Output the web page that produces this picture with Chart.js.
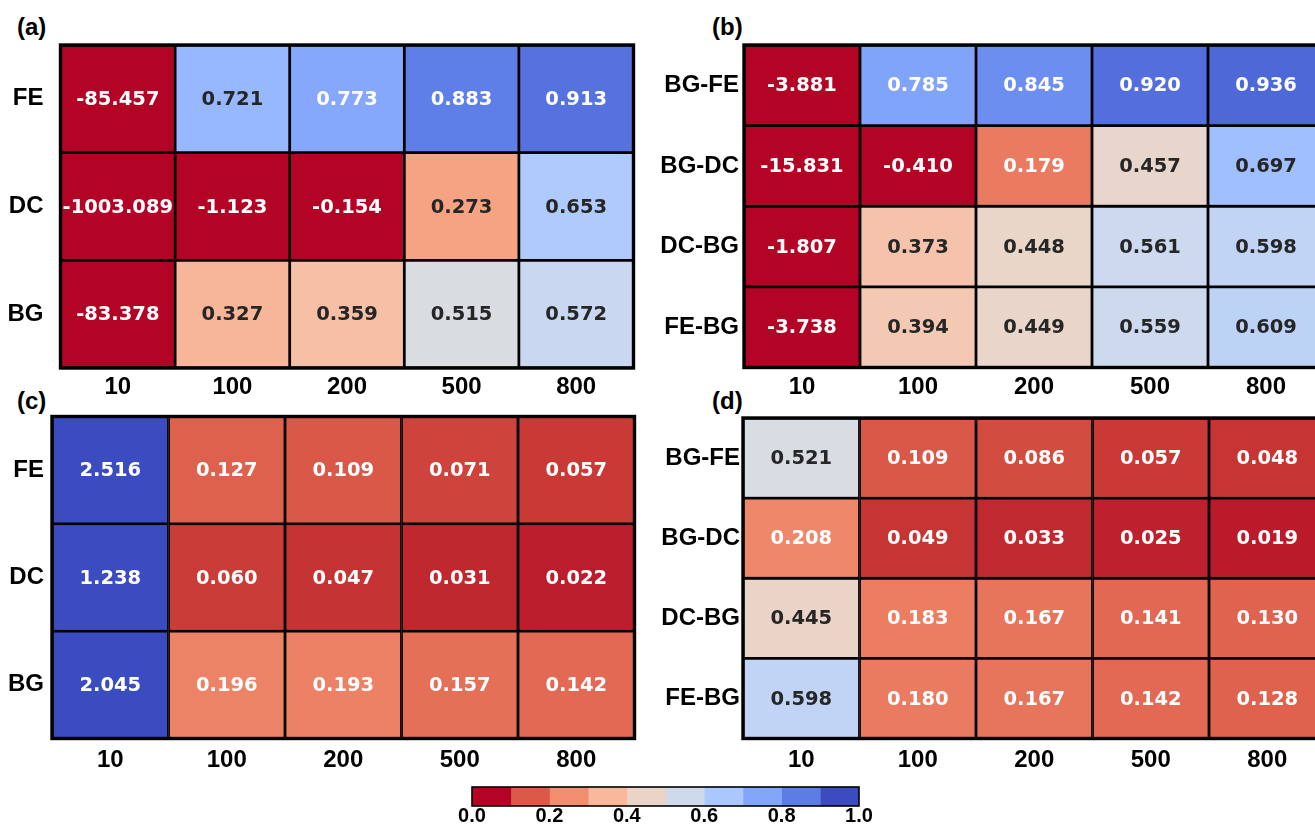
<!DOCTYPE html>
<html><head><meta charset="utf-8">
<script src="https://cdn.jsdelivr.net/npm/chart.js@4/dist/chart.umd.min.js"></script>
<style>
html,body{margin:0;padding:0;background:#fff;overflow:hidden;width:1315px;height:827px;position:relative}
canvas{position:absolute}
.pl{position:absolute;font-family:"Liberation Sans",Arial,sans-serif;font-weight:bold;font-size:24px;line-height:24px;color:#000;white-space:nowrap}
</style></head><body>
<div class="pl" style="left:17px;top:15px">(a)</div>
<div class="pl" style="left:712px;top:15px">(b)</div>
<div class="pl" style="left:17px;top:389px">(c)</div>
<div class="pl" style="left:712px;top:389px">(d)</div>
<canvas id="ca"></canvas>
<canvas id="cb"></canvas>
<canvas id="cc"></canvas>
<canvas id="cd"></canvas>
<canvas id="cbar"></canvas>
<script>
// ---------- data ----------
const columns = ['10', '100', '200', '500', '800'];

const rowsA = ['FE', 'DC', 'BG'];
const aFE = [-85.457, 0.721, 0.773, 0.883, 0.913];
const aDC = [-1003.089, -1.123, -0.154, 0.273, 0.653];
const aBG = [-83.378, 0.327, 0.359, 0.515, 0.572];

const rowsB = ['BG-FE', 'BG-DC', 'DC-BG', 'FE-BG'];
const bBGFE = [-3.881, 0.785, 0.845, 0.920, 0.936];
const bBGDC = [-15.831, -0.410, 0.179, 0.457, 0.697];
const bDCBG = [-1.807, 0.373, 0.448, 0.561, 0.598];
const bFEBG = [-3.738, 0.394, 0.449, 0.559, 0.609];

const rowsC = ['FE', 'DC', 'BG'];
const cFE = [2.516, 0.127, 0.109, 0.071, 0.057];
const cDC = [1.238, 0.060, 0.047, 0.031, 0.022];
const cBG = [2.045, 0.196, 0.193, 0.157, 0.142];

const rowsD = ['BG-FE', 'BG-DC', 'DC-BG', 'FE-BG'];
const dBGFE = [0.521, 0.109, 0.086, 0.057, 0.048];
const dBGDC = [0.208, 0.049, 0.033, 0.025, 0.019];
const dDCBG = [0.445, 0.183, 0.167, 0.141, 0.130];
const dFEBG = [0.598, 0.180, 0.167, 0.142, 0.128];

const cbEdges = [0, 0.1, 0.2, 0.3, 0.4, 0.5, 0.6, 0.7, 0.8, 0.9, 1.0];
const cbTicks = [0, 0.2, 0.4, 0.6, 0.8, 1.0];

// ---------- colormap (coolwarm, reversed) ----------
const CW = [[59,76,192],[68,90,204],[77,104,215],[87,117,225],[98,130,234],[108,142,241],[119,154,247],[130,165,251],[141,176,254],[152,185,255],[163,194,255],[174,201,253],[184,208,249],[194,213,244],[204,217,238],[213,219,230],[221,221,221],[229,216,209],[236,211,197],[241,204,185],[245,196,173],[247,187,160],[247,177,148],[247,166,135],[244,154,123],[241,141,111],[236,127,99],[229,112,88],[222,96,77],[213,80,66],[203,62,56],[192,40,47],[180,4,38]];
function coolwarm(t) {
  t = Math.min(1, Math.max(0, t));
  const p = t * 32, i = Math.min(31, Math.floor(p)), f = p - i;
  const a = CW[i], b = CW[i + 1];
  return a.map((v, k) => v + (b[k] - v) * f);
}
function cmapR(v) { return coolwarm(1 - v); }
function rgbStr(c) { return 'rgb(' + c.map(Math.round).join(',') + ')'; }
function lum(c) {
  const l = c.map(v => { v /= 255; return v <= 0.03928 ? v / 12.92 : Math.pow((v + 0.055) / 1.055, 2.4); });
  return 0.2126 * l[0] + 0.7152 * l[1] + 0.0722 * l[2];
}

const tickFont = { family: '"Liberation Sans", Arial, sans-serif', weight: 'bold', size: 24 };

function makeHeatmap(id, rows, matrix, g) {
  const cv = document.getElementById(id);
  const W = Math.ceil(g.right + 20 - g.cl);
  const H = Math.ceil(g.bottom + 45 - g.ct);
  cv.width = W; cv.height = H;
  cv.style.left = g.cl + 'px'; cv.style.top = g.ct + 'px';
  cv.style.width = W + 'px'; cv.style.height = H + 'px';
  const yw = g.left - g.cl;
  const padTop = g.top - g.ct;
  const padRight = W - (g.right - g.cl);
  const padBottom = H - (g.bottom - g.ct) - 45;

  const annot = {
    id: 'annot' + id,
    afterDatasetsDraw(chart) {
      const ctx = chart.ctx, a = chart.chartArea;
      ctx.save();
      chart.data.datasets.forEach((ds, i) => {
        const meta = chart.getDatasetMeta(i);
        meta.data.forEach((el, j) => {
          const v = matrix[i][j];
          const col = cmapR(v);
          ctx.fillStyle = lum(col) > 0.408 ? 'rgb(38,38,38)' : '#ffffff';
          ctx.font = 'bold 19.5px "DejaVu Sans", sans-serif';
          ctx.textAlign = 'center';
          ctx.textBaseline = 'middle';
          ctx.fillText(v.toFixed(3), el.x, (el.y + el.base) / 2 + 1);
        });
      });
      ctx.lineWidth = 3.4;
      ctx.strokeStyle = '#000';
      ctx.strokeRect(a.left, a.top, a.right - a.left, a.bottom - a.top);
      ctx.restore();
    }
  };

  return new Chart(cv, {
    type: 'bar',
    data: {
      labels: columns,
      datasets: rows.map((r, i) => ({
        label: r,
        data: columns.map(() => [i, i + 1]),
        backgroundColor: matrix[i].map(v => rgbStr(cmapR(v))),
        borderColor: '#000',
        borderWidth: 1.7,
        borderSkipped: false,
        borderRadius: 0,
        inflateAmount: 0.3,
        grouped: false,
        categoryPercentage: 1,
        barPercentage: 1
      }))
    },
    options: {
      responsive: false,
      animation: false,
      events: [],
      layout: { padding: { top: padTop, right: padRight, left: 0, bottom: padBottom } },
      plugins: { legend: { display: false }, tooltip: { enabled: false }, title: { display: false } },
      scales: {
        x: {
          type: 'category',
          offset: true,
          grid: { display: false, drawTicks: false },
          border: { display: false },
          ticks: { font: tickFont, color: '#000', padding: g.xpad, maxRotation: 0, autoSkip: false },
          afterFit: s => { s.height = 45; }
        },
        y: {
          type: 'linear',
          min: 0,
          max: rows.length,
          reverse: true,
          grid: { display: false, drawTicks: false },
          border: { display: false },
          afterBuildTicks: s => { s.ticks = rows.map((_, i) => ({ value: i + 0.5 })); },
          ticks: { font: tickFont, color: '#000', padding: g.ypad, callback: v => rows[Math.floor(v)] },
          afterFit: s => { s.width = yw; }
        }
      }
    },
    plugins: [annot]
  });
}

makeHeatmap('ca', rowsA, [aFE, aDC, aBG], { left: 60.5, top: 45, right: 633.5, bottom: 368, cl: 0, ct: 0, ypad: 17, xpad: 5 });
makeHeatmap('cb', rowsB, [bBGFE, bBGDC, bDCBG, bFEBG], { left: 744, top: 45, right: 1324, bottom: 367.5, cl: 634, ct: 0, ypad: 5, xpad: 5 });
makeHeatmap('cc', rowsC, [cFE, cDC, cBG], { left: 52, top: 416.5, right: 634.5, bottom: 738.5, cl: 0, ct: 370, ypad: 8, xpad: 7 });
makeHeatmap('cd', rowsD, [dBGFE, dBGDC, dDCBG, dFEBG], { left: 743, top: 418, right: 1325.5, bottom: 738.5, cl: 634, ct: 370, ypad: 3, xpad: 7 });

// ---------- colorbar ----------
(function () {
  const cv = document.getElementById('cbar');
  const cl = 442, ct = 767, W = 447, H = 74;
  cv.width = W; cv.height = H;
  cv.style.left = cl + 'px'; cv.style.top = ct + 'px';
  cv.style.width = W + 'px'; cv.style.height = H + 'px';
  const areaL = 472, areaR = 859, areaT = 787, areaB = 806;
  const nb = cbEdges.length - 1;
  const border = {
    id: 'cbborder',
    afterDatasetsDraw(chart) {
      const ctx = chart.ctx, a = chart.chartArea;
      ctx.save();
      ctx.lineWidth = 1.6; ctx.strokeStyle = '#000';
      ctx.strokeRect(a.left, a.top, a.right - a.left, a.bottom - a.top);
      ctx.restore();
    }
  };
  new Chart(cv, {
    type: 'bar',
    data: {
      labels: ['cb'],
      datasets: cbEdges.slice(0, nb).map((e, i) => ({
        data: [[e, cbEdges[i + 1]]],
        backgroundColor: rgbStr(cmapR(i / (nb - 1))),
        borderWidth: 0,
        inflateAmount: 0.4,
        grouped: false,
        categoryPercentage: 1,
        barPercentage: 1
      }))
    },
    options: {
      indexAxis: 'y',
      responsive: false,
      animation: false,
      events: [],
      layout: { padding: { left: areaL - cl, right: W - (areaR - cl), top: areaT - ct, bottom: 0 } },
      plugins: { legend: { display: false }, tooltip: { enabled: false } },
      scales: {
        x: {
          type: 'linear', min: 0, max: 1,
          grid: { display: false, drawTicks: false },
          border: { display: false },
          afterBuildTicks: s => { s.ticks = cbTicks.map(v => ({ value: v })); },
          ticks: { font: { family: '"Liberation Sans", Arial, sans-serif', weight: 'bold', size: 20, lineHeight: 1 }, color: '#000', padding: 0, maxRotation: 0, callback: v => Number(v).toFixed(1) },
          afterFit: s => { s.height = H - (areaB - ct); }
        },
        y: { display: false, offset: true }
      }
    },
    plugins: [border]
  });
})();
</script>
</body></html>
